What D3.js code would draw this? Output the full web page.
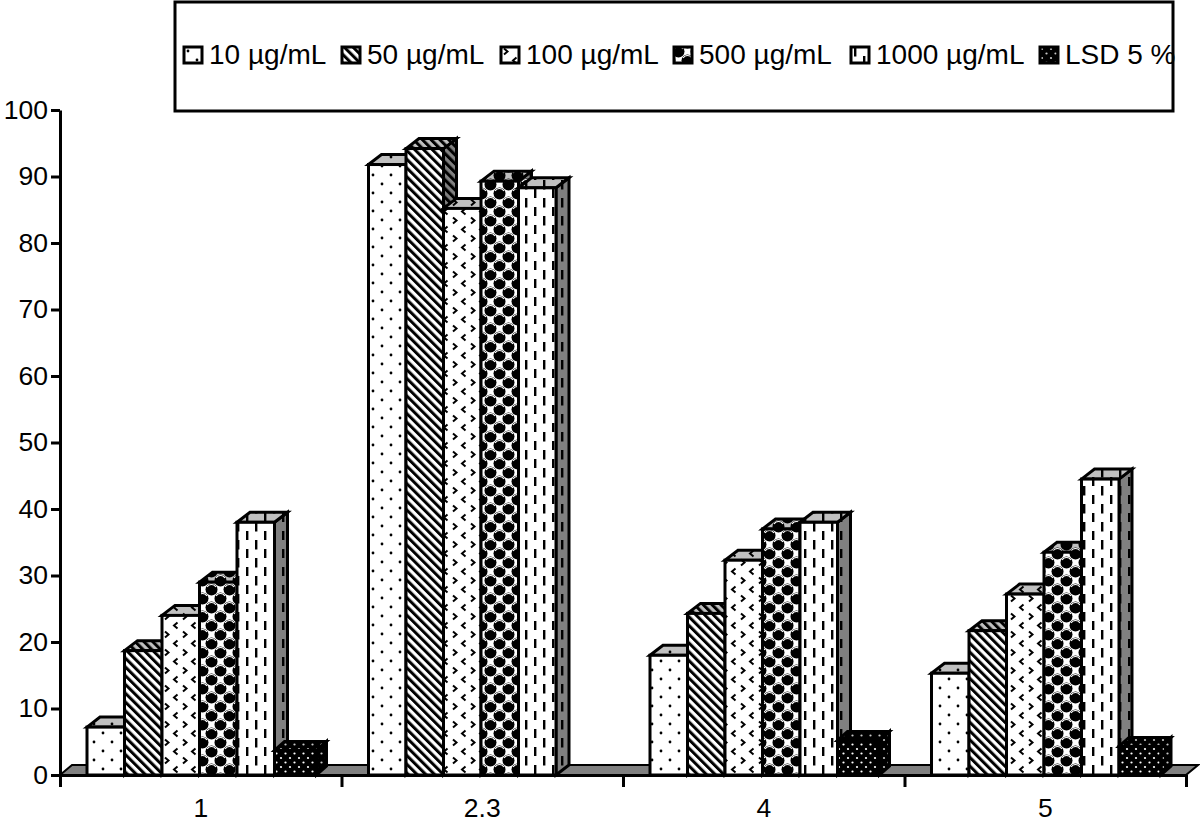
<!DOCTYPE html>
<html>
<head>
<meta charset="utf-8">
<script src="https://cdn.jsdelivr.net/npm/d3@7"></script>
<style>
html, body { margin: 0; padding: 0; background: #fff; }
text { font-family: "Liberation Sans", Arial, sans-serif; fill: #000; }
</style>
</head>
<body>
<div id="chart"></div>
<script>
var categories = ['1', '2.3', '4', '5'];
var seriesNames = ['10 µg/mL', '50 µg/mL', '100 µg/mL', '500 µg/mL', '1000 µg/mL', 'LSD 5 %'];
var yTicks = [0, 10, 20, 30, 40, 50, 60, 70, 80, 90, 100];

var conc10 = [7.2, 91.8, 18.0, 15.3];
var conc50 = [18.7, 94.2, 24.3, 21.7];
var conc100 = [24.0, 85.2, 32.3, 27.2];
var conc500 = [29.0, 89.3, 37.0, 33.5];
var conc1000 = [38.0, 88.3, 38.0, 44.5];
var lsd = [3.7, 0, 5.2, 4.3];
var seriesValues = [conc10, conc50, conc100, conc500, conc1000, lsd];

var width = 1200, height = 823;
var depthX = 13, depthY = 10;

var svg = d3.select('#chart').append('svg')
    .attr('width', width)
    .attr('height', height)
    .style('display', 'block');

var xCat = d3.scaleBand().domain(categories).range([60, 1186]);
var xSeries = d3.scaleBand().domain(seriesNames).range([27, 252]);
var y = d3.scaleLinear().domain([0, 100]).range([775, 110]);

// hatch fills, one set per shade: front, top and side of a bar
var defs = svg.append('defs');
var shades = { front: '#fff', top: '#c0c0c0', side: '#808080', key: '#fff' };

function dots(p, r, pts, colour) {
    pts.forEach(function(c) {
        p.append('circle').attr('cx', c[0]).attr('cy', c[1]).attr('r', r).attr('fill', colour);
    });
}

var painters = [
    function(p) { dots(p, 1.4, [[4, 4], [13, 13]], '#000'); },
    function(p) {
        p.attr('patternTransform', 'rotate(-45)').attr('width', 6.2).attr('height', 6.2);
        p.append('rect').attr('width', 3).attr('height', 6.2).attr('fill', '#000');
    },
    function(p) {
        p.append('path').attr('d', 'M3 1.5l3.5 3l-3.5 3').attr('fill', 'none').attr('stroke', '#000').attr('stroke-width', 2);
        p.append('path').attr('d', 'M15.5 10.5l-3.5 3l3.5 3').attr('fill', 'none').attr('stroke', '#000').attr('stroke-width', 2);
    },
    function(p) {
        [[4.5, 4.5], [13.5, 13.5], [-4.5, 13.5], [13.5, -4.5], [22.5, 4.5], [4.5, 22.5]].forEach(function(c) {
            p.append('circle').attr('cx', c[0]).attr('cy', c[1]).attr('r', 6).attr('fill', '#000');
            p.append('path')
                .attr('d', 'M' + (c[0] - 4.4) + ' ' + (c[1] - 2.4) + 'a5 5 0 0 1 8.8 0')
                .attr('fill', 'none').attr('stroke', '#fff').attr('stroke-width', 1.1);
        });
    },
    function(p) {
        p.append('rect').attr('x', 3).attr('y', 0).attr('width', 2.4).attr('height', 9.5).attr('fill', '#000');
        p.append('rect').attr('x', 12).attr('y', 9).attr('width', 2.4).attr('height', 9.5).attr('fill', '#000');
    },
    function(p, shade) {
        p.attr('width', 9).attr('height', 9);
        p.select('rect').attr('fill', '#000');
        dots(p, 1.1, [[2, 2], [6.5, 6.5]], shade === 'front' ? '#fff' : '#c8c8c8');
    }
];

Object.keys(shades).forEach(function(shade) {
    painters.forEach(function(paint, i) {
        var p = defs.append('pattern')
            .attr('id', 'hatch' + i + shade)
            .attr('patternUnits', 'userSpaceOnUse')
            .attr('width', 18)
            .attr('height', 18);
        p.append('rect').attr('width', 40).attr('height', 40).attr('fill', shades[shade]);
        paint(p, shade);
    });
});

// floor of the 3d plot
var floorY = y(0);
svg.append('path')
    .attr('d', d3.line()([
        [xCat.range()[0], floorY],
        [xCat.range()[0] + 12, floorY - depthY],
        [xCat.range()[1] + 12, floorY - depthY],
        [xCat.range()[1], floorY]
    ]) + 'Z')
    .attr('fill', '#808080')
    .attr('stroke', '#000')
    .attr('stroke-width', 2);

// bars, left to right so each one covers the side of the one before
var bars = [];
categories.forEach(function(cat, c) {
    seriesNames.forEach(function(name, s) {
        if (seriesValues[s][c] > 0) bars.push({ cat: cat, name: name, s: s, value: seriesValues[s][c] });
    });
});

var barG = svg.selectAll('g.bar').data(bars).enter().append('g').attr('class', 'bar')
    .attr('stroke', '#000')
    .attr('stroke-width', 3)
    .attr('stroke-linejoin', 'miter');

function box(d) {
    var isLsd = d.s === seriesNames.length - 1;
    var x0 = xCat(d.cat) + xSeries(d.name);
    return {
        x0: x0,
        x1: x0 + xSeries.bandwidth() + (isLsd ? 4.5 : 0),
        top: y(d.value),
        dx: isLsd ? 10 : depthX,
        dy: isLsd ? 9 : depthY
    };
}

barG.append('path')
    .attr('d', function(d) {
        var b = box(d);
        return d3.line()([[b.x1, floorY], [b.x1 + b.dx, floorY - b.dy], [b.x1 + b.dx, b.top - b.dy], [b.x1, b.top]]) + 'Z';
    })
    .attr('fill', function(d) { return 'url(#hatch' + d.s + 'side)'; });

barG.append('path')
    .attr('d', function(d) {
        var b = box(d);
        return d3.line()([[b.x0, b.top], [b.x0 + b.dx, b.top - b.dy], [b.x1 + b.dx, b.top - b.dy], [b.x1, b.top]]) + 'Z';
    })
    .attr('fill', function(d) { return 'url(#hatch' + d.s + 'top)'; });

barG.append('rect')
    .attr('x', function(d) { return box(d).x0; })
    .attr('y', function(d) { return box(d).top; })
    .attr('width', function(d) { return box(d).x1 - box(d).x0; })
    .attr('height', function(d) { return floorY - box(d).top; })
    .attr('fill', function(d) { return 'url(#hatch' + d.s + 'front)'; });

// axes
var yAxis = svg.append('g')
    .attr('transform', 'translate(60,0)')
    .call(d3.axisLeft(y).tickValues(yTicks).tickSize(9).tickSizeOuter(0).tickPadding(3));
yAxis.selectAll('text').style('font-size', '26.5px');

var xEdges = d3.scaleLinear().domain([0, categories.length]).range(xCat.range());
svg.append('g')
    .attr('transform', 'translate(0,' + floorY + ')')
    .call(d3.axisBottom(xEdges).tickValues(d3.range(categories.length + 1)).tickSize(12).tickSizeOuter(0).tickFormat(''));

var xAxis = svg.append('g')
    .attr('transform', 'translate(0,' + floorY + ')')
    .call(d3.axisBottom(xCat).tickSize(0).tickPadding(23));
xAxis.select('.domain').remove();
xAxis.selectAll('text').style('font-size', '26.5px');

svg.selectAll('.domain, .tick line').attr('stroke', '#000').attr('stroke-width', 3);

// legend
svg.append('rect')
    .attr('x', 175).attr('y', 2)
    .attr('width', 998).attr('height', 109)
    .attr('fill', '#fff')
    .attr('stroke', '#000')
    .attr('stroke-width', 3);

var legendX = [184, 342, 501, 674, 851, 1040];
var legend = svg.selectAll('g.key').data(seriesNames).enter().append('g').attr('class', 'key')
    .attr('transform', function(d, i) { return 'translate(' + legendX[i] + ',47)'; });

legend.append('rect')
    .attr('width', 18).attr('height', 16)
    .attr('fill', function(d, i) { return 'url(#hatch' + i + 'key)'; })
    .attr('stroke', '#000')
    .attr('stroke-width', 3);

legend.append('text')
    .attr('x', 25)
    .attr('y', 17)
    .style('font-size', '28px')
    .text(function(d) { return d; });
</script>
</body>
</html>
